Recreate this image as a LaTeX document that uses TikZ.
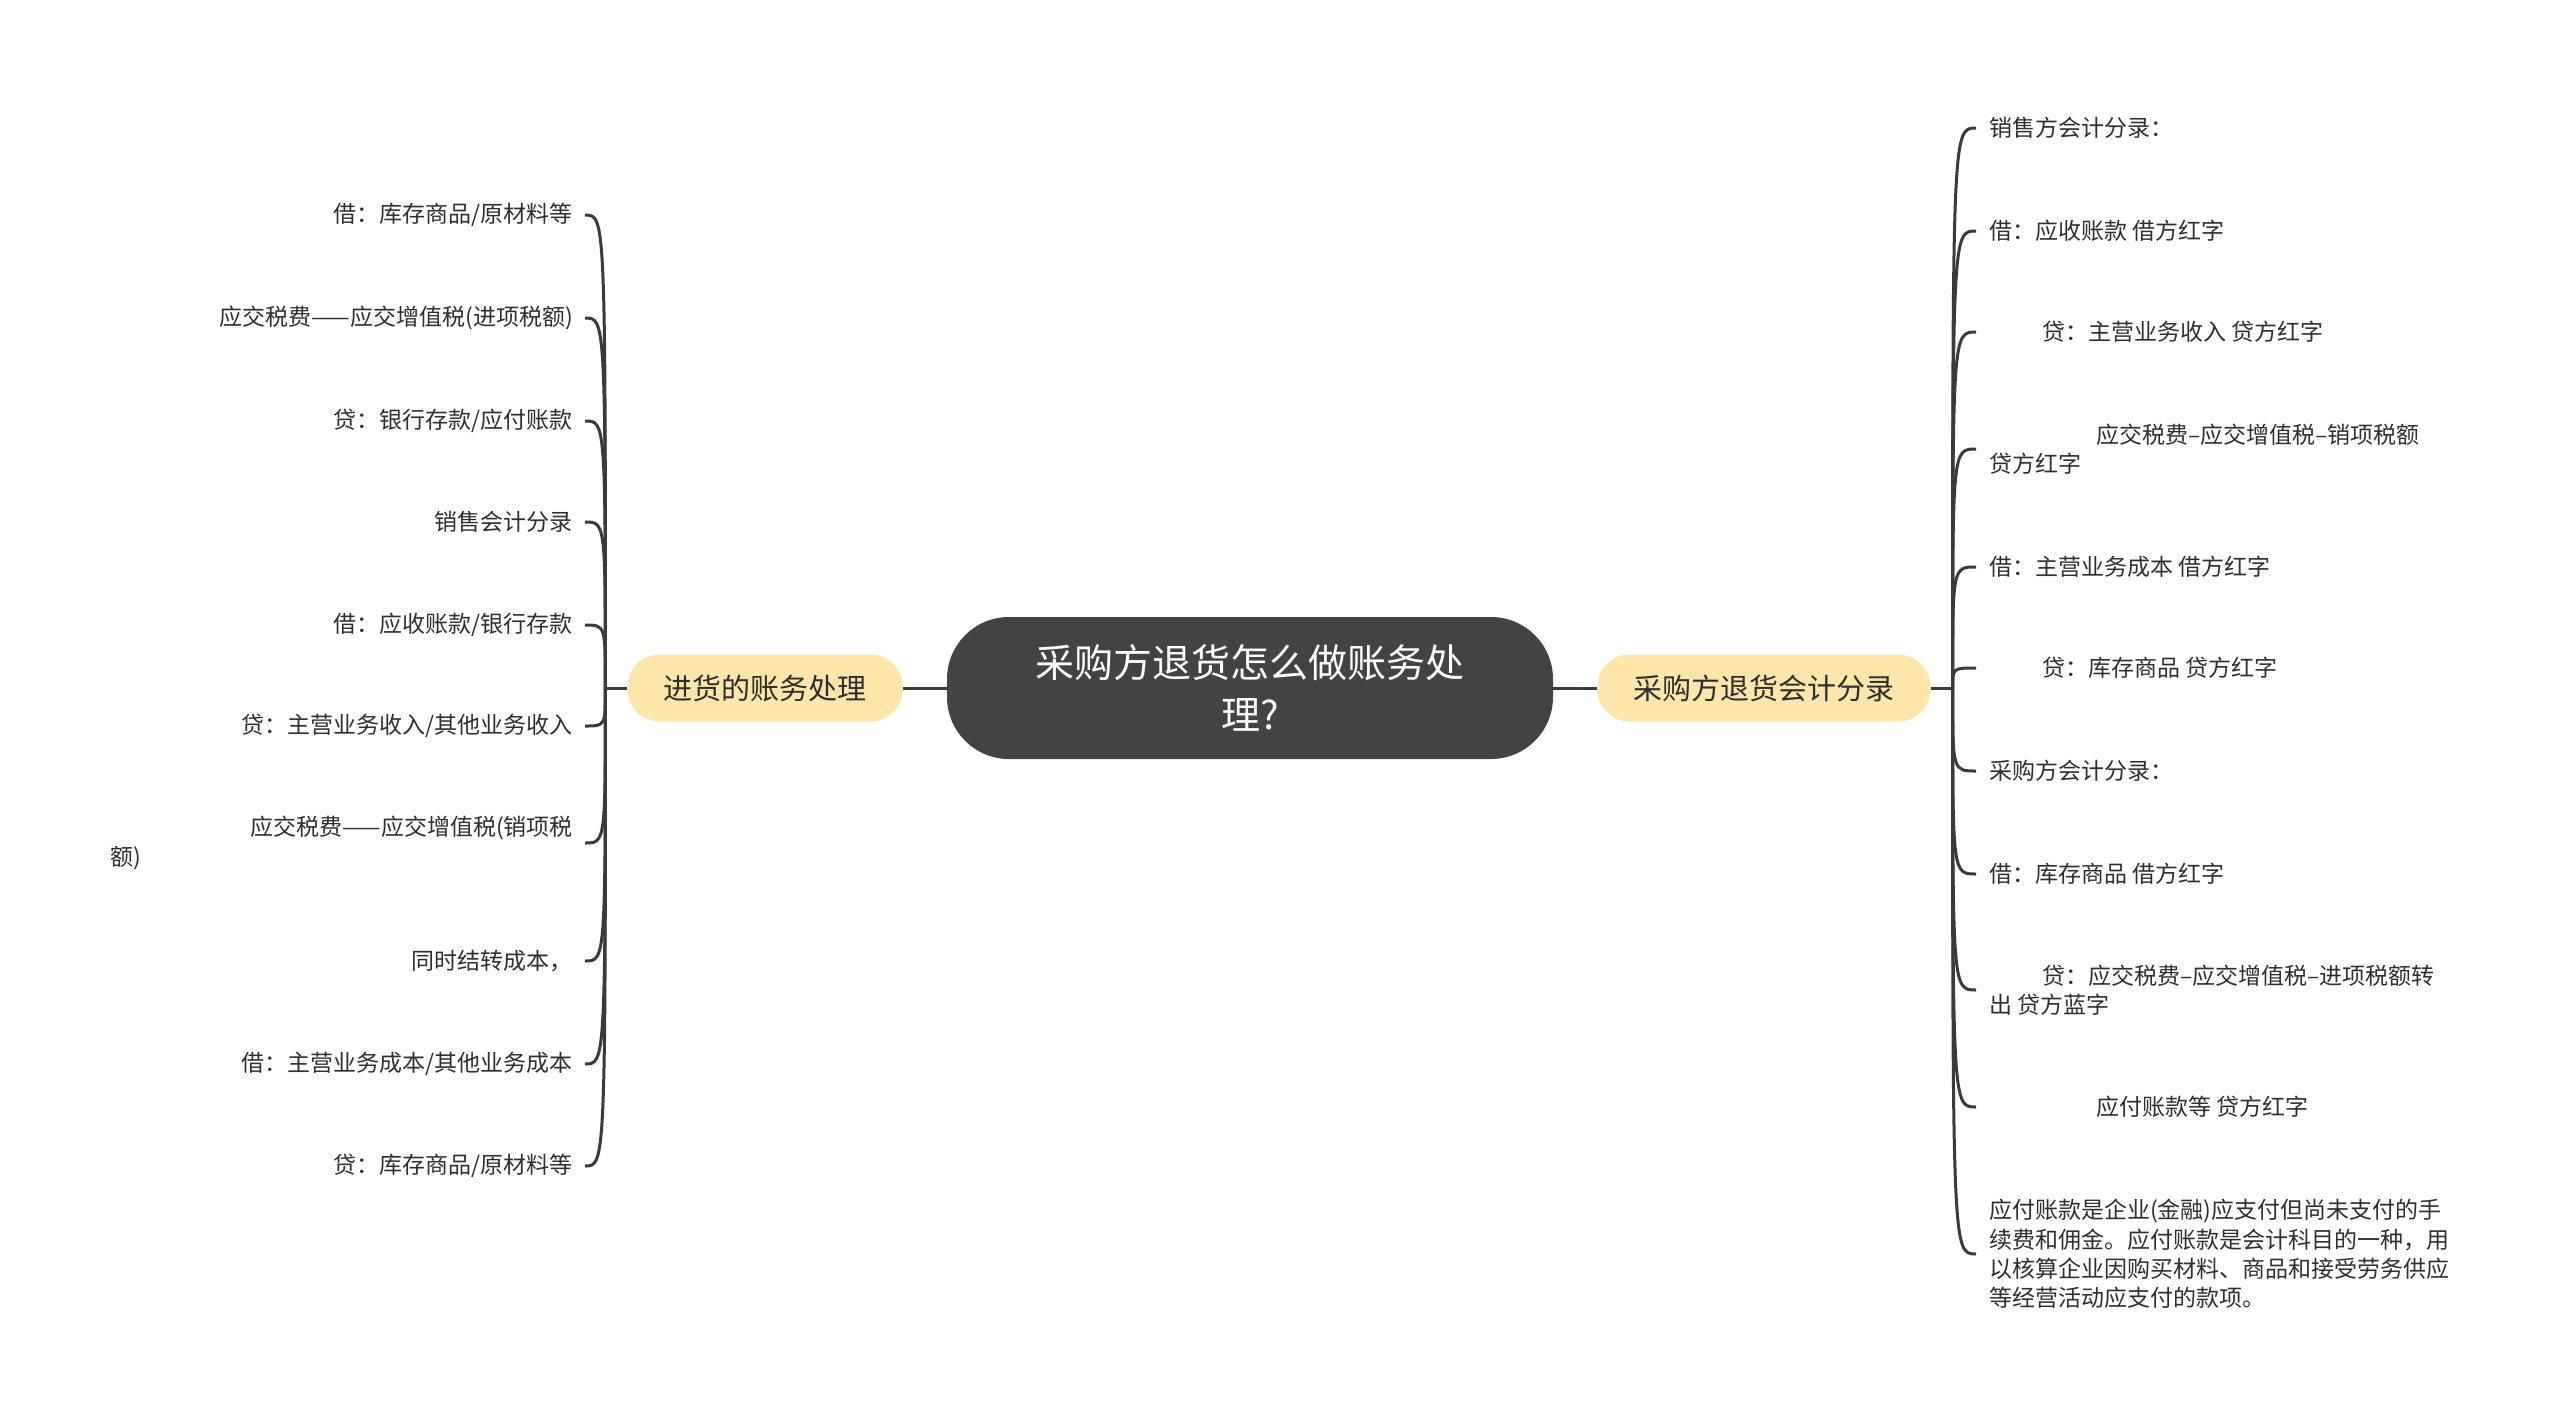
\documentclass[tikz,border=0pt]{standalone}
\usepackage{fontspec}
\setmainfont{Noto Sans CJK SC}
\usetikzlibrary{positioning}

\definecolor{rootgray}{HTML}{434343}
\definecolor{branchyellow}{HTML}{FDE6AA}
\definecolor{linegray}{HTML}{3A3A3A}
\definecolor{textgray}{HTML}{2E2E2E}

\tikzset{
  root/.style={rectangle, rounded corners=62pt, fill=rootgray, text=white,
    font=\fontsize{39}{52}\selectfont, align=center,
    minimum width=606pt, minimum height=142pt},
  branch/.style={rectangle, rounded corners=32pt, fill=branchyellow, text=textgray,
    font=\fontsize{29}{35}\selectfont, minimum height=67pt, inner xsep=36pt},
  leafl/.style={anchor=east, text=textgray, font=\fontsize{23}{29.4}\selectfont,
    inner xsep=12pt, inner ysep=0pt, yshift=-3pt},
  leafr/.style={anchor=west, text=textgray, font=\fontsize{23}{29.4}\selectfont,
    inner xsep=13pt, inner ysep=0pt, align=left, yshift=-2pt},
  link/.style={draw=linegray, line width=3pt},
  bracket/.style={to path={.. controls (\tikztostart |- \tikztotarget) .. (\tikztotarget)}},
}

\begin{document}
\begin{tikzpicture}[x=1pt, y=-1pt]
    \useasboundingbox (0,0) rectangle (2560,1422);

    \node [root] (root) at (1250,688) {采购方退货怎么做账务处\\理?};
    \node [branch] (buy) [left=44pt of root] {进货的账务处理};
    \node [branch] (ret) [right=44pt of root] {采购方退货会计分录};
    \coordinate [left=22pt of buy] (bj);
    \coordinate [right=22pt of ret] (rj);

    % left side
    \node [leafl] (b1) at (585,212) {借：库存商品/原材料等};
    \node [leafl] (b2) at (585,315) {应交税费——应交增值税(进项税额)};
    \node [leafl] (b3) at (585,418) {贷：银行存款/应付账款};
    \node [leafl] (b4) at (585,519) {销售会计分录};
    \node [leafl] (b5) at (585,622) {借：应收账款/银行存款};
    \node [leafl] (b6) at (585,723) {贷：主营业务收入/其他业务收入};
    \node [leafl, text width=462pt, align=left] (b7) at (585,840)
        {\hfill 应交税费——应交增值税(销项税\newline 额)};
    \node [leafl] (b8) at (585,958) {同时结转成本，};
    \node [leafl] (b9) at (585,1061) {借：主营业务成本/其他业务成本};
    \node [leafl] (b10) at (585,1163) {贷：库存商品/原材料等};

    % right side
    \node [leafr] (r1) at (1976,126) {销售方会计分录：};
    \node [leafr] (r2) at (1976,229) {借：应收账款 借方红字};
    \node [leafr] (r3) at (1976,330) {\hspace*{53pt}贷：主营业务收入 贷方红字};
    \node [leafr] (r4) at (1976,447) {\hspace*{107pt}应交税费–应交增值税–销项税额\\贷方红字};
    \node [leafr] (r5) at (1976,565) {借：主营业务成本 借方红字};
    \node [leafr] (r6) at (1976,666) {\hspace*{53pt}贷：库存商品 贷方红字};
    \node [leafr] (r7) at (1976,769) {采购方会计分录：};
    \node [leafr] (r8) at (1976,872) {借：库存商品 借方红字};
    \node [leafr] (r9) at (1976,988) {\hspace*{53pt}贷：应交税费–应交增值税–进项税额转\\出 贷方蓝字};
    \node [leafr] (r10) at (1976,1105) {\hspace*{107pt}应付账款等 贷方红字};
    \node [leafr] (r11) at (1976,1252) {应付账款是企业(金融)应支付但尚未支付的手\\续费和佣金。应付账款是会计科目的一种，用\\以核算企业因购买材料、商品和接受劳务供应\\等经营活动应支付的款项。};

    \path [link]
        (buy) edge (root)
        (root) edge (ret)
        (buy) edge (bj)
        (ret) edge (rj);
    \path [link]
        (bj) edge [bracket] (b1) edge [bracket] (b2) edge [bracket] (b3)
             edge [bracket] (b4) edge [bracket] (b5) edge [bracket] (b6)
             edge [bracket] (b7) edge [bracket] (b8) edge [bracket] (b9)
             edge [bracket] (b10)
        (rj) edge [bracket] (r1) edge [bracket] (r2) edge [bracket] (r3)
             edge [bracket] (r4) edge [bracket] (r5) edge [bracket] (r6)
             edge [bracket] (r7) edge [bracket] (r8) edge [bracket] (r9)
             edge [bracket] (r10) edge [bracket] (r11);
\end{tikzpicture}
\end{document}
